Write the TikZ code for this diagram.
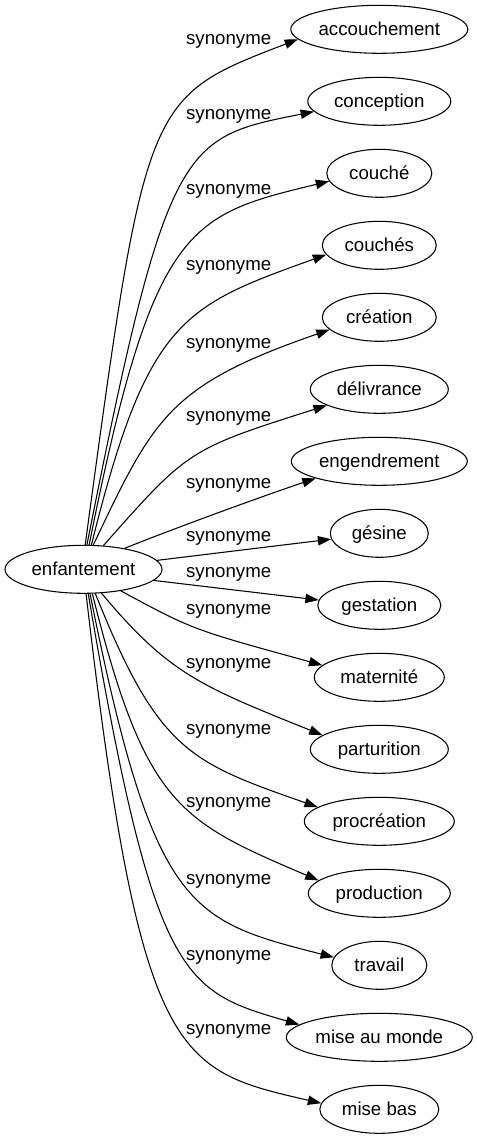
\documentclass[tikz,border=0pt]{standalone}
\usepackage{fontspec}
\setmainfont{Liberation Sans}
\usetikzlibrary{shapes.geometric,arrows.meta}
\begin{document}
\begin{tikzpicture}[x=0.75pt,y=-0.75pt,
  font=\fontsize{14pt}{16pt}\selectfont,
  tn/.style={ellipse,draw,line width=0.8pt,inner sep=0pt,minimum height=36pt,
             minimum width=#1*0.75pt,text height=10pt,text depth=1pt},
  lab/.style={inner sep=0pt},
  edge/.style={line width=0.8pt,-{Triangle[length=10pt,width=7pt]}}]
\useasboundingbox (0,0) rectangle (477,1139);
% nodes
\node[tn=157] (enf) at (83.5,569.3) {enfantement};
\node[tn=177] (n1) at (379.3,29.3) {accouchement};
\node[tn=143] (n2) at (379.3,101.3) {conception};
\node[tn=105] (n3) at (379.3,173.3) {couché};
\node[tn=114] (n4) at (379.3,245.3) {couchés};
\node[tn=114] (n5) at (379.3,317.3) {création};
\node[tn=138] (n6) at (379.3,389.3) {délivrance};
\node[tn=176] (n7) at (379.3,461.3) {engendrement};
\node[tn=98]  (n8) at (379.3,533.3) {gésine};
\node[tn=123] (n9) at (379.3,605.3) {gestation};
\node[tn=130] (n10) at (379.3,677.3) {maternité};
\node[tn=138] (n11) at (379.3,749.3) {parturition};
\node[tn=150] (n12) at (379.3,821.3) {procréation};
\node[tn=142] (n13) at (379.3,893.3) {production};
\node[tn=95]  (n14) at (379.3,965.3) {travail};
\node[tn=186] (n15) at (379.3,1037.3) {mise au monde};
\node[tn=119] (n16) at (379.3,1109.3) {mise bas};
% labels
\node[lab] (l1) at (228.7,41.7) {synonyme};
\node[lab] (l2) at (228.7,116.7) {synonyme};
\node[lab] (l3) at (228.7,191.7) {synonyme};
\node[lab] (l4) at (228.7,267.3) {synonyme};
\node[lab] (l5) at (228.7,345) {synonyme};
\node[lab] (l6) at (228.7,418.3) {synonyme};
\node[lab] (l7) at (228.7,485) {synonyme};
\node[lab] (l8) at (228.7,538.3) {synonyme};
\node[lab] (l9) at (228.7,574.3) {synonyme};
\node[lab] (l10) at (228.7,611.7) {synonyme};
\node[lab] (l11) at (228.7,665) {synonyme};
\node[lab] (l12) at (228.7,731.7) {synonyme};
\node[lab] (l13) at (228.7,804) {synonyme};
\node[lab] (l14) at (228.7,881) {synonyme};
\node[lab] (l15) at (228.7,957) {synonyme};
\node[lab] (l16) at (228.7,1031) {synonyme};
% edges
\draw[edge] (enf.86) .. controls (145.7,97.7) and (145.7,97.7) .. (n1.187);
\draw[edge] (enf.82) .. controls (167.1,140.6) and (181.6,137.7) .. (n2.189);
\draw[edge] (enf.77) .. controls (153.3,223.7) and (188.3,215.3) .. (n3.189);
\draw[edge] (enf.72) .. controls (147.5,318.9) and (183,306.1) .. (n4.190);
\draw[edge] (enf.68) .. controls (153.9,417.2) and (169.1,385.2) .. (n5.194);
\draw[edge] (enf.50) .. controls (188.6,449.3) and (188.6,449.3) .. (n6.197);
\draw[edge] (enf.27) .. controls (170,530) and (260,497) .. (n7.195);
\draw[edge] (enf) -- (n8);
\draw[edge] (enf.-9) -- (n9.175);
\draw[edge] (enf.-30) .. controls (192.5,629.6) and (192.5,629.6) .. (n10.168);
\draw[edge] (enf.-53) .. controls (168.6,673.4) and (199.4,685.7) .. (n11.166);
\draw[edge] (enf.-64) .. controls (158.4,751.3) and (190.1,762.4) .. (n12.167);
\draw[edge] (enf.-70) .. controls (145.3,806.3) and (179.6,821) .. (n13.168);
\draw[edge] (enf.-75) .. controls (153.7,911.4) and (189.5,920.5) .. (n14.170);
\draw[edge] (enf.-79) .. controls (154.4,982.3) and (182.9,990.8) .. (n15.171.5);
\draw[edge] (enf.-84) .. controls (140.4,1061.7) and (176,1070) .. (n16.174);
\end{tikzpicture}
\end{document}
